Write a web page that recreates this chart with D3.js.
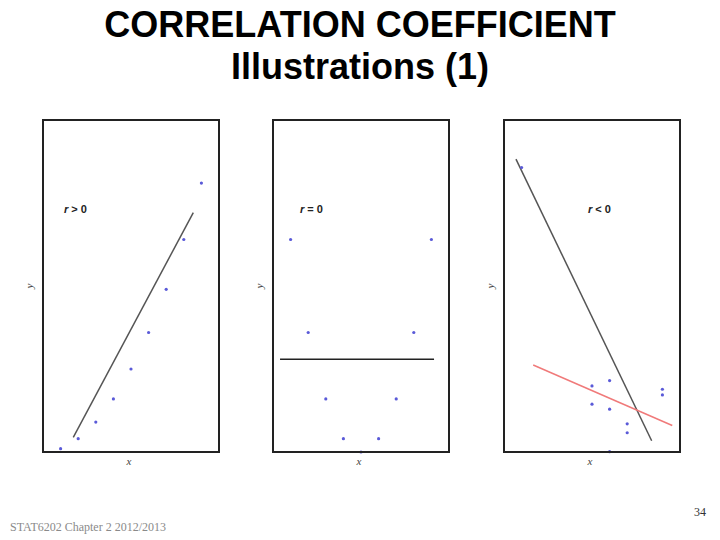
<!DOCTYPE html>
<html lang="en">
<head>
<meta charset="UTF-8">
<title>Correlation coefficient illustrations</title>
<script src="https://d3js.org/d3.v7.min.js"></script>
<style>
    body { margin: 0; background: #fff; }
    .title { font-family: "Liberation Sans", Arial, sans-serif; font-weight: bold; font-size: 36px; fill: #000; }
    .footer { font-family: "Liberation Serif", "Times New Roman", serif; font-size: 12px; fill: #8a8a8a; }
    .axis-label { font-family: "Liberation Serif", serif; font-style: italic; font-size: 11px; fill: #444; }
    .r-label { font-family: "Liberation Sans", Arial, sans-serif; font-weight: bold; font-size: 11px; fill: #222; }
    .dot { fill: #5a5ad8; }
</style>
</head>
<body>
<div id="chart"></div>
<script>
// panel 1: r > 0
const p1X = [1, 2, 3, 4, 5, 6, 7, 8, 9];
const p1Y = [1, 4, 9, 16, 25, 36, 49, 64, 81];
const p1LineX = [1.72, 8.54];
const p1LineY = [4.4, 72.1];

// panel 2: r = 0
const p2X = [1, 2, 3, 4, 5, 6, 7, 8, 9];
const p2Y = [16, 9, 4, 1, 0, 1, 4, 9, 16];
const p2LineX = [0.4, 9.15];
const p2LineY = [6.98, 6.98];

// panel 3: r < 0
const p3X = [1, 5, 5, 6, 6, 6, 7, 7, 9, 9];
const p3Y = [85.7, 19.9, 14.4, 21.5, 12.9, 0.1, 8.5, 5.8, 18.9, 17.2];
const p3LineX = [0.68, 8.39];
const p3LineY = [88.2, 3.4];
const p3RedLineX = [1.66, 9.56];
const p3RedLineY = [26.2, 8.0];

const panelLabels = ["r > 0", "r = 0", "r < 0"];
const yMax = [100, 25, 100];

const W = 720, H = 540;
const svg = d3.select("#chart").append("svg")
    .attr("width", W).attr("height", H);

// title
svg.append("text").attr("class", "title")
    .attr("x", 360).attr("y", 37).attr("text-anchor", "middle")
    .text("CORRELATION COEFFICIENT");
svg.append("text").attr("class", "title")
    .attr("x", 360).attr("y", 79).attr("text-anchor", "middle")
    .text("Illustrations (1)");

const panelLeft = [43, 273, 504];
const panelW = 176, panelTop = 120, panelBottom = 452;
const labelX = [64, 300, 588];

const panels = [
    { xs: p1X, ys: p1Y, lines: [{ x: p1LineX, y: p1LineY, c: "#555" }] },
    { xs: p2X, ys: p2Y, lines: [{ x: p2LineX, y: p2LineY, c: "#222" }] },
    { xs: p3X, ys: p3Y, lines: [{ x: p3LineX, y: p3LineY, c: "#555" },
                               { x: p3RedLineX, y: p3RedLineY, c: "#f07a7a" }] }
];

panels.forEach((p, i) => {
    const left = panelLeft[i];
    const x = d3.scaleLinear().domain([0, 10]).range([left, left + panelW]);
    const y = d3.scaleLinear().domain([0, yMax[i]]).range([panelBottom, panelTop]);
    const g = svg.append("g");

    // regression lines
    p.lines.forEach(l => {
        g.append("line")
            .attr("x1", x(l.x[0])).attr("y1", y(l.y[0]))
            .attr("x2", x(l.x[1])).attr("y2", y(l.y[1]))
            .attr("stroke", l.c).attr("stroke-width", 1.5);
    });

    // points
    g.selectAll(".dot")
        .data(p.xs.map((v, j) => [v, p.ys[j]]))
        .enter().append("circle")
        .attr("class", "dot")
        .attr("cx", d => x(d[0]))
        .attr("cy", d => y(d[1]))
        .attr("r", 1.6);

    // frame
    g.append("rect")
        .attr("x", left).attr("y", panelTop)
        .attr("width", panelW).attr("height", panelBottom - panelTop)
        .attr("fill", "none").attr("stroke", "#222").attr("stroke-width", 2);

    // r label
    const parts = panelLabels[i].split(" ");
    const t = g.append("text").attr("class", "r-label")
        .attr("x", labelX[i]).attr("y", 213);
    t.append("tspan").attr("font-style", "italic").text(parts[0]);
    t.append("tspan").text(" " + parts[1] + " " + parts[2]);

    // axis labels
    g.append("text").attr("class", "axis-label")
        .attr("x", left + panelW / 2 - 2).attr("y", 465)
        .attr("text-anchor", "middle").text("x");
    g.append("text").attr("class", "axis-label")
        .attr("transform", `translate(${left - 10},286) rotate(-90)`)
        .attr("text-anchor", "middle").text("y");
});

// footer
svg.append("text").attr("class", "footer")
    .attr("x", 10).attr("y", 531).text("STAT6202 Chapter 2 2012/2013");
svg.append("text").attr("class", "footer")
    .attr("x", 706).attr("y", 516).attr("text-anchor", "end")
    .style("fill", "#333").text("34");
</script>
</body>
</html>
